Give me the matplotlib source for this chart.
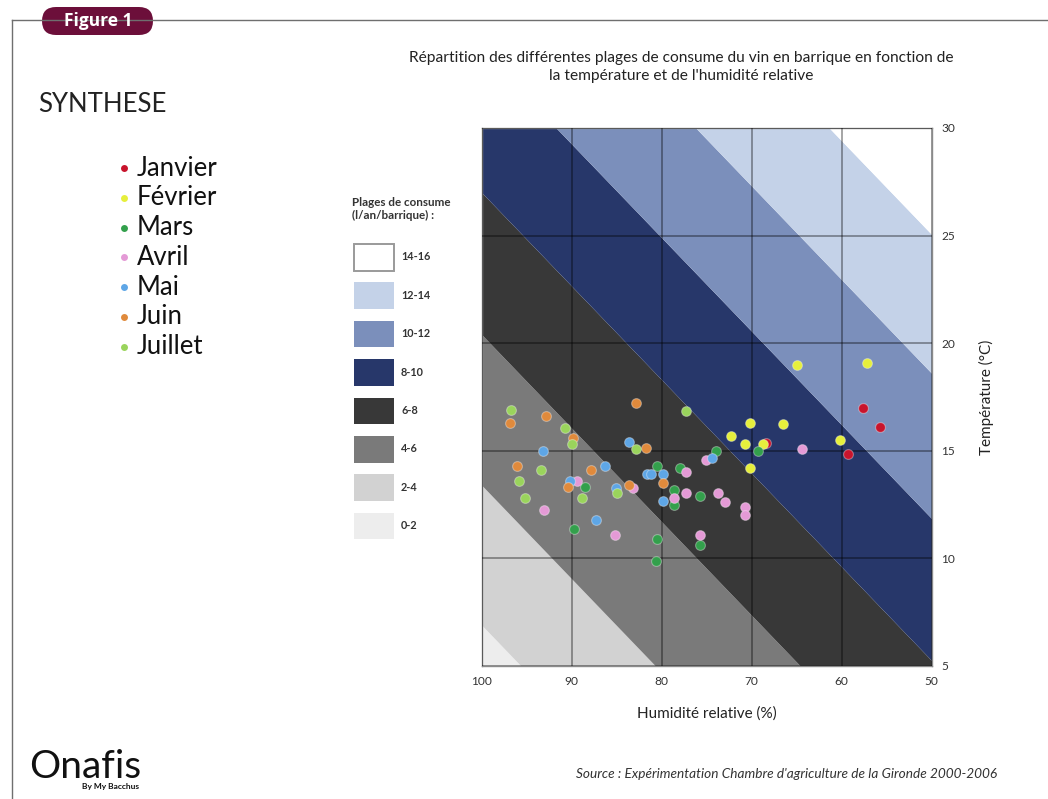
import numpy as np
import matplotlib
matplotlib.use("Agg")
import matplotlib.pyplot as plt
from matplotlib.patches import Rectangle, FancyBboxPatch
from matplotlib.lines import Line2D
from matplotlib.transforms import IdentityTransform

plt.rcParams['font.family'] = ['Lato', 'DejaVu Sans']

# ---------------- data ----------------
months = ['Janvier', 'Février', 'Mars', 'Avril', 'Mai', 'Juin', 'Juillet']
month_colors = ['#c8142c', '#e6ef3c', '#33a04c', '#e49ad6', '#5ea6e6', '#e08a3c', '#9ad45c']

# humidity (%) / temperature (°C), per month
jan_hum = [57.6, 55.8, 59.3, 68.4]
jan_temp = [17.0, 16.1, 14.85, 15.35]
feb_hum = [65.0, 57.2, 70.2, 66.5, 72.3, 70.8, 68.7, 60.2, 70.2]
feb_temp = [19.0, 19.1, 16.3, 16.25, 15.7, 15.3, 15.3, 15.5, 14.2]
mar_hum = [74.0, 80.5, 78.0, 88.5, 78.6, 75.7, 78.6, 89.7, 80.5, 80.6, 75.7, 69.3]
mar_temp = [15.0, 14.3, 14.2, 13.3, 13.2, 12.9, 12.5, 11.35, 10.9, 9.9, 10.6, 15.0]
apr_hum = [75.1, 77.3, 83.2, 89.4, 78.6, 77.3, 73.7, 93.1, 85.2, 75.7, 64.4, 73.0, 70.7, 70.7]
apr_temp = [14.57, 14.0, 13.25, 13.6, 12.8, 13.05, 13.05, 12.25, 11.1, 11.1, 15.1, 12.6, 12.37, 12.0]
may_hum = [93.2, 83.6, 74.4, 86.3, 81.6, 81.2, 79.9, 90.2, 85.1, 79.9, 87.3]
may_temp = [15.0, 15.4, 14.68, 14.3, 13.9, 13.9, 13.9, 13.6, 13.26, 12.66, 11.8]
jun_hum = [96.9, 92.8, 89.9, 82.9, 81.7, 96.1, 87.9, 79.9, 83.6, 90.4]
jun_temp = [16.3, 16.6, 15.6, 17.2, 15.15, 14.3, 14.1, 13.5, 13.4, 13.3]
jul_hum = [96.7, 90.7, 90.0, 77.3, 82.9, 93.4, 95.8, 95.2, 88.9, 85.0]
jul_temp = [16.9, 16.05, 15.3, 16.85, 15.1, 14.1, 13.6, 12.8, 12.8, 13.05]

month_hum = [jan_hum, feb_hum, mar_hum, apr_hum, may_hum, jun_hum, jul_hum]
month_temp = [jan_temp, feb_temp, mar_temp, apr_temp, may_temp, jun_temp, jul_temp]

ranges = ['0-2', '2-4', '4-6', '6-8', '8-10', '10-12', '12-14', '14-16']
range_colors = ['#ededed', '#d2d2d2', '#7a7a7a', '#383838', '#27376a', '#7b8fbb', '#c4d2e8', '#ffffff']
# temperature at 100 % humidity where each boundary between ranges sits
boundary_t100 = [6.9, 13.4, 20.4, 27.0, 33.6, 40.35, 46.8]
boundary_slope = 0.435   # °C per % of humidity

hum_ticks = [100, 90, 80, 70, 60, 50]
temp_ticks = [5, 10, 15, 20, 25, 30]

# ---------------- figure ----------------
W, H = 1048, 799
fig = plt.figure(figsize=(W / 100, H / 100), dpi=100)
px = IdentityTransform()


def fy(y):
    return H - y


# page frame
fig.add_artist(Line2D([12, W], [fy(20), fy(20)], color='#6f6f6f', lw=1, transform=px))
fig.add_artist(Line2D([12, 12], [fy(20), 0], color='#6f6f6f', lw=1, transform=px))

# "Figure 1" tag
fig.add_artist(FancyBboxPatch((42, fy(35)), 111, 28, boxstyle='round,pad=0,rounding_size=14',
                              fc='#6c0f3a', ec='none', transform=px))
fig.text(98, fy(21), 'Figure 1', transform=px, ha='center', va='center', color='white',
         fontsize=12.5, fontweight='bold', family=['Open Sans', 'DejaVu Sans'])

# left panel
fig.text(38, fy(105), 'SYNTHESE', transform=px, ha='left', va='center', fontsize=18.5, color='#222222')
for i, (m, c) in enumerate(zip(months, month_colors)):
    y = fy(168 + i * 29.8)
    fig.add_artist(Line2D([124], [y], marker='o', ms=5, color=c, mec='none', transform=px))
    fig.text(137, y, m, transform=px, ha='left', va='center', fontsize=18.5, color='#111111')

# logo
fig.text(29, fy(767), 'Onafis', transform=px, ha='left', va='center', fontsize=28, color='#111111')
fig.text(139, fy(787), 'By My Bacchus', transform=px, ha='right', va='center', fontsize=6,
         fontweight='bold', color='#111111')

# title
fig.text(681, fy(58), 'Répartition des différentes plages de consume du vin en barrique en fonction de',
         transform=px, ha='center', va='center', fontsize=11.2, color='#222222')
fig.text(681, fy(76), "la température et de l'humidité relative",
         transform=px, ha='center', va='center', fontsize=11.2, color='#222222')

# consumption ranges legend
fig.text(352, fy(202), 'Plages de consume', transform=px, ha='left', va='center', fontsize=8.4,
         fontweight='bold', color='#333333')
fig.text(352, fy(215), '(l/an/barrique) :', transform=px, ha='left', va='center', fontsize=8.4,
         fontweight='bold', color='#333333')
for i, (r, c) in enumerate(zip(ranges[::-1], range_colors[::-1])):
    top = 244 + i * 38.4
    ec = '#9a9a9a' if c == '#ffffff' else 'none'
    fig.add_artist(Rectangle((354, fy(top + 26.5)), 40, 26.5, fc=c, ec=ec, lw=1.4, transform=px))
    fig.text(401, fy(top + 13), r, transform=px, ha='left', va='center', fontsize=7.8,
             fontweight='bold', color='#333333')

# source
fig.text(997, fy(774), "Source : Expérimentation Chambre d'agriculture de la Gironde 2000-2006",
         transform=px, ha='right', va='center', fontsize=9.8, style='italic', color='#333333')

# ---------------- main chart ----------------
ax = fig.add_axes([481.7 / W, 1 - 666 / H, 450 / W, 538 / H])
hum = np.array([100.0, 50.0])
for i, c in enumerate(range_colors):
    lo = boundary_t100[i - 1] - boundary_slope * (100 - hum) if i > 0 else np.full(2, -60.0)
    hi = boundary_t100[i] - boundary_slope * (100 - hum) if i < len(boundary_t100) else np.full(2, 100.0)
    ax.fill_between(hum, lo, hi, color=c, lw=0, zorder=1)

for hs, ts, c in zip(month_hum, month_temp, month_colors):
    ax.scatter(hs, ts, s=50, color=c, edgecolors=(1, 1, 1, 0.35), linewidths=0.8, zorder=4)

ax.set_xlim(100, 50)
ax.set_ylim(5, 30)
ax.set_xticks(hum_ticks)
ax.set_yticks(temp_ticks)
ax.grid(True, color='black', alpha=0.45, lw=1.1, zorder=3)
ax.set_axisbelow(False)
ax.yaxis.tick_right()
ax.yaxis.set_label_position('right')
ax.tick_params(length=0, labelsize=8.6, labelcolor='#333333', pad=7)
for s in ax.spines.values():
    s.set_color('#8a8a8a')
    s.set_linewidth(1)
ax.set_xlabel('Humidité relative (%)', fontsize=11, color='#222222', labelpad=14)
ax.set_ylabel('Température (°C)', fontsize=11, color='#222222', labelpad=17)

fig.savefig('out.png', dpi=100)
